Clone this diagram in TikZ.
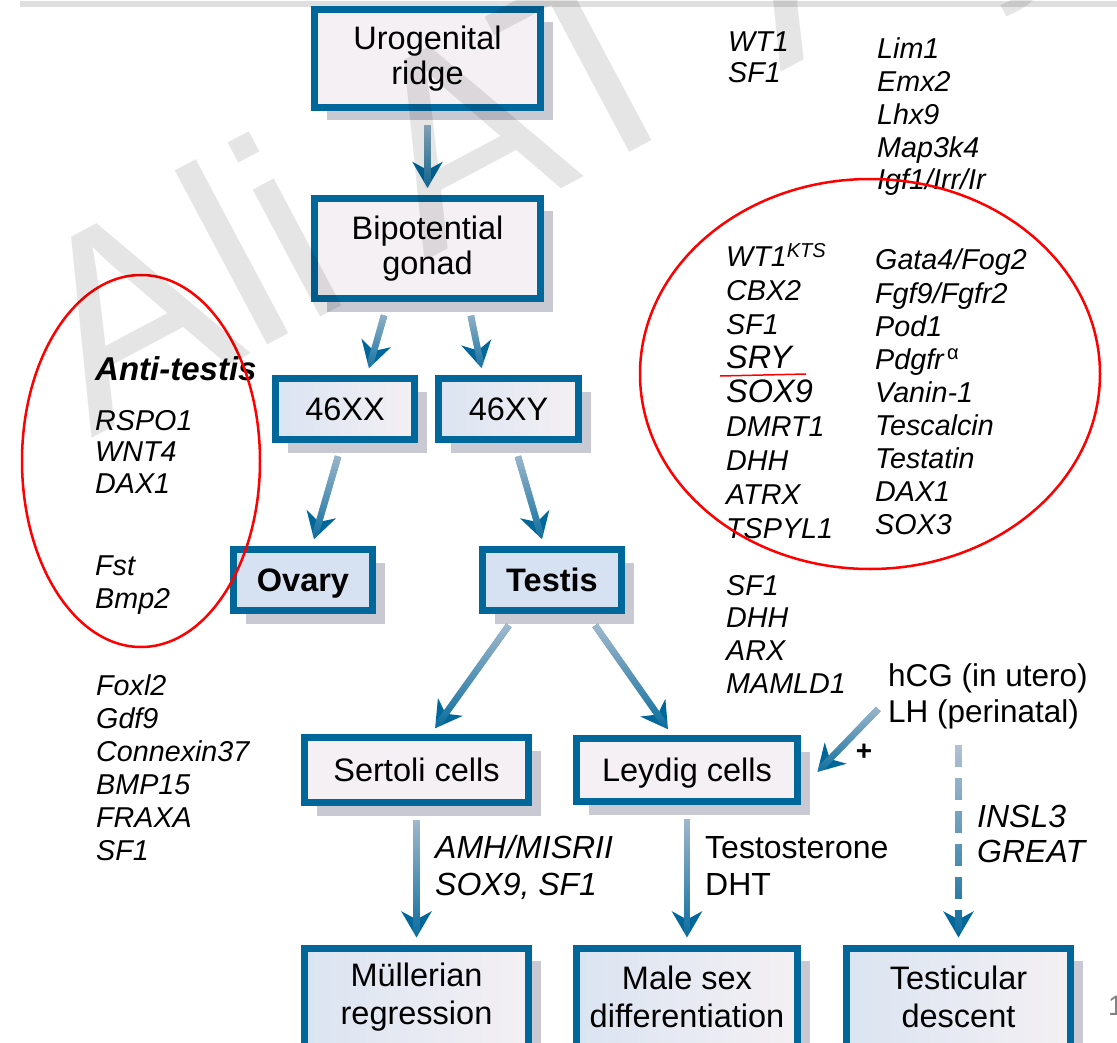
\documentclass[tikz,border=0pt]{standalone}
\usepackage{fontspec}
\setmainfont{Liberation Sans}
\usetikzlibrary{arrows.meta,shadows,fadings,calc}
\definecolor{boxblue}{RGB}{0,103,154}
\definecolor{shadowgray}{RGB}{200,201,211}
\definecolor{boxpink}{RGB}{244,240,243}
\definecolor{boxlblue}{RGB}{214,226,242}
\definecolor{arrowlight}{RGB}{190,200,214}
\newcommand\genebig{\fontsize{32.5}{33}\selectfont}
\tikzfading[name=lightfade, top color=transparent!5, middle color=transparent!100, bottom color=transparent!100]
\tikzset{
  gbox/.style={draw=boxblue, line width=7pt, inner sep=0pt, align=center,
    font=\fontsize{32.5}{35}\selectfont,
    drop shadow={shadow xshift=12pt, shadow yshift=-13pt, fill=shadowgray, opacity=1}},
  pinkbox/.style={gbox, fill=boxpink},
  bluebox/.style={gbox, fill=boxlblue, font=\fontsize{32.5}{35}\selectfont\bfseries},
  fadebox/.style={gbox, left color=boxlblue!85!boxpink, right color=boxpink},
  lowbox/.style={fadebox, minimum height=98pt, font=\fontsize{32.5}{38}\selectfont},
  gene/.style={anchor=base west, inner sep=0pt, font=\fontsize{28.7}{33}\selectfont\itshape},
  note/.style={anchor=base west, inner sep=0pt, font=\fontsize{32}{36}\selectfont},
  flow/.style={line width=6.5pt, draw=boxblue, -{Stealth[length=26pt,width=30pt,inset=8pt]},
    shorten <=14pt, shorten >=7pt, postaction={draw=arrowlight, -, path fading=lightfade}},
  dflow/.style={flow, dash pattern=on 22pt off 11pt, shorten <=0pt}
}
\begin{document}
\begin{tikzpicture}[x=1pt,y=-1pt]
  \useasboundingbox (0,0) rectangle (1117,1043);
  \clip (0,0) rectangle (1117,1043);
  \fill[white] (0,0) rectangle (1117,1043);
  \draw[line width=6pt, gray!25] (20,4) -- (1117,4);

  \node[pinkbox, minimum width=226pt, minimum height=98pt] (urog) at (427.5,58.5) {Urogenital\\ridge};
  \node[pinkbox, minimum width=226pt, minimum height=100pt] (bip) at (427.5,248.5) {Bipotential\\gonad};
  \node[fadebox, minimum width=139pt, minimum height=61pt] (xx) at (345,409) {46XX};
  \node[fadebox, minimum width=140pt, minimum height=61pt] (xy) at (508.5,409) {46XY};
  \node[bluebox, minimum width=139pt, minimum height=61pt, text depth=0pt] (ovary) at (303,580) {Ovary};
  \node[bluebox, minimum width=139pt, minimum height=61pt] (testis) at (552,580) {Testis};
  \node[pinkbox, minimum width=224pt, minimum height=65pt] (sertoli) at (416.5,770) {Sertoli cells};
  \node[pinkbox, minimum width=221pt, minimum height=63pt, text depth=0pt] (leydig) at (687,770) {Leydig cells};
  \node[lowbox, minimum width=224pt] (mull) at (416.5,997) {Müllerian\\regression};
  \node[lowbox, minimum width=221pt] (male) at (687,997) {Male sex\\differentiation};
  \node[lowbox, minimum width=224pt] (desc) at (958.5,997) {Testicular\\descent};

  \foreach \g [count=\i] in {WT1,SF1}
    \node[gene] (ua\i) at (728,{52+31*(\i-1)}) {\g};
  \foreach \g [count=\i] in {Lim1,Emx2,Lhx9,Map3k4,Igf1/Irr/Ir}
    \node[gene] (ub\i) at (877,{59+32.75*(\i-1)}) {\g};
  \foreach \g [count=\i] in {WT1\textsuperscript{KTS},CBX2,SF1,\genebig SRY,\genebig SOX9,DMRT1,DHH,ATRX,TSPYL1}
    \node[gene] (ta\i) at (726,{267+33.9*(\i-1)}) {\g};
  \foreach \g [count=\i] in {Gata4/Fog2,Fgf9/Fgfr2,Pod1,Pdgfr\textsuperscript{\,\upshape α},Vanin-1,Tescalcin,Testatin,DAX1,SOX3}
    \node[gene] (tb\i) at (875,{270+33*(\i-1)}) {\g};
  \foreach \g [count=\i] in {SF1,DHH,ARX,MAMLD1}
    \node[gene] (tc\i) at (726,{595+32.7*(\i-1)}) {\g};
  \node[note, font=\fontsize{33}{36}\selectfont\bfseries\itshape] (anti) at (95,380) {Anti-testis};
  \foreach \g [count=\i] in {RSPO1,WNT4,DAX1}
    \node[gene] (at\i) at (95,{430+31.5*(\i-1)}) {\g};
  \foreach \g [count=\i] in {Fst,Bmp2}
    \node[gene] (af\i) at (95,{575+33*(\i-1)}) {\g};
  \foreach \g [count=\i] in {Foxl2,Gdf9,Connexin37,BMP15,FRAXA,SF1}
    \node[gene] (ov\i) at (96,{695+33*(\i-1)}) {\g};

  \node[note, font=\fontsize{32}{36}\selectfont\itshape] (amh) at (435,858) {AMH/MISRII};
  \node[note, font=\fontsize{32}{36}\selectfont\itshape] (sox) at (435,895) {SOX9, SF1};
  \node[note] (testo) at (705,858) {Testosterone};
  \node[note] (dht) at (705,895) {DHT};
  \node[note, font=\fontsize{31.5}{36}\selectfont] (hcg1) at (888,686) {hCG (in utero)};
  \node[note, font=\fontsize{31.5}{36}\selectfont] (hcg2) at (888,722) {LH (perinatal)};
  \node[note, font=\fontsize{32}{36}\selectfont\itshape] (insl) at (977,827) {INSL3};
  \node[note, font=\fontsize{32}{36}\selectfont\itshape] (great) at (977,862) {GREAT};
  \node[font=\fontsize{28}{28}\selectfont\bfseries] (plus) at (864,752) {+};
  \node[note, font=\fontsize{28}{28}\selectfont, gray] (pageno) at (1108,1015) {1};
  \coordinate (gstart) at (958.5,745);

  \draw[flow] (urog) -- (bip);
  \draw[flow] ($(bip.south)+(-39.5,0)$) -- ($(xx.north)+(22,0)$);
  \draw[flow] ($(bip.south)+(40.5,0)$) -- ($(xy.north)+(-25.5,0)$);
  \draw[flow] ($(xx.south)+(-3,0)$) -- ($(ovary.north)+(9,0)$);
  \draw[flow] ($(xy.south)+(5.5,0)$) -- ($(testis.north)+(-8,0)$);
  \draw[flow] ($(testis.south)+(-35,0)$) -- ($(sertoli.north)+(14.5,0)$);
  \draw[flow] ($(testis.south)+(35,0)$) -- ($(leydig.north)+(-15,0)$);
  \draw[flow] (sertoli) -- (mull);
  \draw[flow] (leydig) -- (male);
  \draw[flow] (hcg2.north west) -- ($(leydig.east)+(11.5,7)$);
  \draw[dflow] (gstart) -- (desc);

  \draw[red, line width=2.5pt] (141,461) ellipse [x radius=119, y radius=186];
  \draw[red, line width=2.5pt] (870,374) ellipse [x radius=230, y radius=195];
  \draw[red, line width=1.5pt] (720,376) -- (806,374);

  \node[rotate=28, anchor=base west, inner sep=0pt, opacity=.1, font=\fontsize{272}{272}\selectfont] (wmark) at (91,439) {Ali AT Aş};
\end{tikzpicture}
\end{document}
